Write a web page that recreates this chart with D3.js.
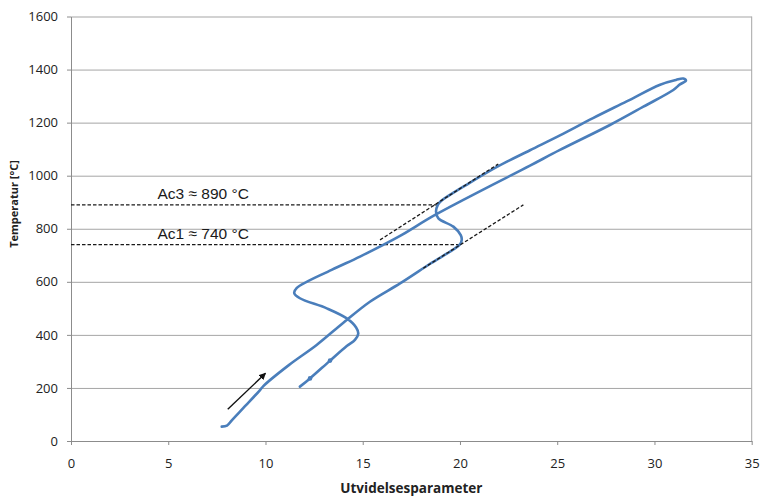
<!DOCTYPE html>
<html>
<head>
<meta charset="utf-8">
<script src="https://cdn.jsdelivr.net/npm/d3@7"></script>
<style>
  html, body { margin: 0; padding: 0; background: #ffffff; }
  svg { display: block; }
</style>
</head>
<body>
<svg id="chart" width="761" height="497"></svg>
<script>
// Dilatometer curve: expansion parameter vs. temperature
const xTicks = [0, 5, 10, 15, 20, 25, 30, 35];
const yTicks = [0, 200, 400, 600, 800, 1000, 1200, 1400, 1600];

// heating branch (expansion, °C)
const heating = [
  [7.75, 54], [8.02, 58], [8.28, 79], [9.0, 135], [9.72, 192], [9.89, 207],
  [11.2, 286], [12.63, 362], [13.99, 445], [15.37, 525], [16.92, 594],
  [18.46, 668], [20.0, 741], [20.09, 758], [20.04, 776], [19.66, 808],
  [18.89, 839], [18.77, 864], [18.86, 890], [19.0, 903], [20.52, 974],
  [21.97, 1036], [23.6, 1096], [25.14, 1152], [26.84, 1217], [28.57, 1280],
  [30.29, 1343], [31.11, 1361], [31.48, 1366], [31.62, 1358]
];

// cooling branch (expansion, °C)
const cooling = [
  [31.62, 1358], [31.31, 1344], [30.97, 1323], [29.43, 1260], [27.71, 1191],
  [25.14, 1097], [23.6, 1038], [18.72, 852], [16.92, 773], [14.86, 695],
  [13.4, 645], [11.6, 576], [11.48, 557], [11.77, 538], [13.15, 500],
  [14.18, 462], [14.66, 428], [14.77, 405], [14.6, 381], [14.18, 358],
  [13.32, 303], [12.29, 236], [11.77, 205]
];

// small logged points on the cooling tail
const coolingMarks = [[12.29, 236], [13.32, 303]];

// transformation temperatures
const acNames = ["Ac3", "Ac1"];
const acTemps = [890, 740];
const acEndX = [18.86, 20.0];

// tangent lines to the expansion curve [x1, y1, x2, y2]
const tangents = [
  [15.89, 758, 21.97, 1044],
  [18.11, 651, 23.26, 890]
];

// heating direction arrow [x1, y1, x2, y2]
const arrow = [8.06, 120, 10.0, 255];

const svg = d3.select("#chart");
const plotLeft = 71, plotRight = 751.7, plotTop = 16.5, plotBottom = 441;
const x = d3.scaleLinear().domain([0, 35]).range([plotLeft, plotRight]);
const y = d3.scaleLinear().domain([0, 1600]).range([plotBottom, plotTop]);

svg.append("rect").attr("width", 761).attr("height", 497).attr("fill", "#fff");

// horizontal gridlines
svg.append("g")
  .attr("transform", `translate(${plotLeft},0)`)
  .call(d3.axisLeft(y).tickValues(yTicks.slice(1)).tickSize(-(plotRight - plotLeft)).tickFormat(""))
  .call(g => g.select(".domain").remove())
  .call(g => g.selectAll("line").attr("stroke", "#a5a5a5").attr("stroke-width", 1));

// right border of the plot area
svg.append("line")
  .attr("x1", plotRight).attr("x2", plotRight).attr("y1", plotTop).attr("y2", plotBottom)
  .attr("stroke", "#a5a5a5").attr("stroke-width", 1);

// axes
const yAxis = svg.append("g")
  .attr("transform", `translate(${plotLeft},0)`)
  .call(d3.axisLeft(y).tickValues(yTicks).tickFormat(d3.format("d"))
    .tickSize(4).tickPadding(9).tickSizeOuter(0));
const xAxis = svg.append("g")
  .attr("transform", `translate(0,${plotBottom})`)
  .call(d3.axisBottom(x).tickValues(xTicks).tickFormat(d3.format("d"))
    .tickSize(4).tickPadding(14).tickSizeOuter(0));

[yAxis, xAxis].forEach(a => {
  a.select(".domain").attr("stroke", "#8c8c8c").attr("stroke-width", 1);
  a.selectAll(".tick line").attr("stroke", "#8c8c8c");
  a.selectAll(".tick text")
    .attr("font-family", "'Open Sans', sans-serif")
    .attr("font-size", 13)
    .attr("fill", "#222");
});

// axis titles
svg.append("text")
  .attr("x", (plotLeft + plotRight) / 2).attr("y", 492.7)
  .attr("text-anchor", "middle")
  .attr("font-family", "'Open Sans', sans-serif")
  .attr("font-weight", "bold").attr("font-size", 13.5)
  .attr("fill", "#222")
  .text("Utvidelsesparameter");

svg.append("text")
  .attr("transform", "translate(17.5,204) rotate(-90)")
  .attr("text-anchor", "middle")
  .attr("font-family", "'Open Sans', sans-serif")
  .attr("font-weight", "bold").attr("font-size", 11)
  .attr("fill", "#222")
  .text("Temperatur [°C]");

// transformation temperature markers
acTemps.forEach((t, i) => {
  svg.append("line")
    .attr("x1", x(0)).attr("x2", x(acEndX[i]))
    .attr("y1", y(t)).attr("y2", y(t))
    .attr("stroke", "#1a1a1a").attr("stroke-width", 1.3)
    .attr("stroke-dasharray", "3.5,2");
  svg.append("text")
    .attr("x", x(4.45)).attr("y", y(t) - 5.5)
    .attr("font-family", "'Liberation Sans', Arial, sans-serif")
    .attr("font-size", 15.5).attr("fill", "#1a1a1a")
    .text(`${acNames[i]} ≈ ${t} °C`);
});

// expansion curve
const line = d3.line()
  .x(d => x(d[0])).y(d => y(d[1]))
  .curve(d3.curveCatmullRom.alpha(0.5));

svg.append("path")
  .datum(heating.concat(cooling.slice(1)))
  .attr("d", line)
  .attr("fill", "none")
  .attr("stroke", "#4a7ebb")
  .attr("stroke-width", 2.6)
  .attr("stroke-linejoin", "round")
  .attr("stroke-linecap", "round");

svg.selectAll(".mark")
  .data(coolingMarks)
  .join("circle")
  .attr("cx", d => x(d[0])).attr("cy", d => y(d[1]))
  .attr("r", 2.3).attr("fill", "#4a7ebb");

// tangent lines
tangents.forEach(t => {
  svg.append("line")
    .attr("x1", x(t[0])).attr("y1", y(t[1]))
    .attr("x2", x(t[2])).attr("y2", y(t[3]))
    .attr("stroke", "#1a1a1a").attr("stroke-width", 1.3)
    .attr("stroke-dasharray", "3.5,2");
});

// heating direction arrow
svg.append("defs").append("marker")
  .attr("id", "head")
  .attr("viewBox", "0 0 10 10")
  .attr("refX", 9).attr("refY", 5)
  .attr("markerWidth", 7).attr("markerHeight", 7)
  .attr("markerUnits", "userSpaceOnUse")
  .attr("orient", "auto")
  .append("path").attr("d", "M0,0 L10,5 L0,10 Z").attr("fill", "#111");

svg.append("line")
  .attr("x1", x(arrow[0])).attr("y1", y(arrow[1]))
  .attr("x2", x(arrow[2])).attr("y2", y(arrow[3]))
  .attr("stroke", "#111").attr("stroke-width", 1.4)
  .attr("marker-end", "url(#head)");
</script>
</body>
</html>
